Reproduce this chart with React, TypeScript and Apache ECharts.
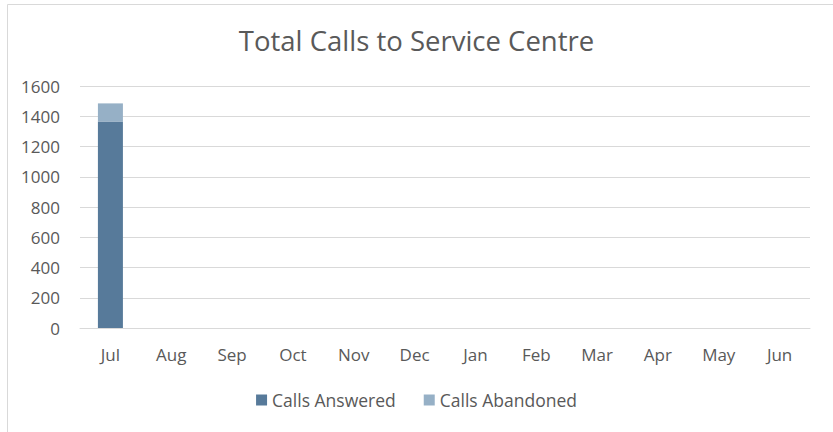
import React, { useEffect, useRef } from "react";
import * as echarts from "echarts";

// Monthly call volumes for the service centre (financial year Jul–Jun)
const months = ["Jul", "Aug", "Sep", "Oct", "Nov", "Dec", "Jan", "Feb", "Mar", "Apr", "May", "Jun"];
const callsAnswered: (number | null)[] = [1365, null, null, null, null, null, null, null, null, null, null, null];
const callsAbandoned: (number | null)[] = [120, null, null, null, null, null, null, null, null, null, null, null];
const seriesNames = ["Calls Answered", "Calls Abandoned"];
const titleText = "Total Calls to Service Centre";

const FONT = "'Open Sans', 'Noto Sans', sans-serif";
const TEXT = "#595959";
const GRID = "#d9d9d9";

export default function App() {
  const ref = useRef<HTMLDivElement>(null);

  useEffect(() => {
    if (!ref.current) return;
    const chart = echarts.init(ref.current, undefined, { renderer: "svg" });
    chart.setOption({
      animation: false,
      backgroundColor: "#ffffff",
      title: {
        text: titleText,
        left: "center",
        top: 21,
        textStyle: { fontFamily: FONT, fontSize: 27.5, fontWeight: "normal", color: TEXT },
      },
      graphic: [
        {
          type: "rect",
          left: 5,
          top: 2,
          shape: { width: 826, height: 428 },
          style: { fill: "none", stroke: GRID, lineWidth: 1 },
          silent: true,
        },
      ],
      legend: {
        data: seriesNames,
        bottom: 18,
        left: "center",
        itemWidth: 11,
        itemHeight: 11,
        itemGap: 28,
        icon: "rect",
        textStyle: { fontFamily: FONT, fontSize: 17.5, color: TEXT },
      },
      grid: { left: 80, right: 23, top: 86, bottom: 104, containLabel: false },
      xAxis: {
        type: "category",
        data: months,
        axisLine: { show: true, lineStyle: { color: GRID, width: 1 } },
        axisTick: { show: false },
        axisLabel: { fontFamily: FONT, fontSize: 17, color: TEXT, margin: 18 },
      },
      yAxis: {
        type: "value",
        min: 0,
        max: 1600,
        interval: 200,
        axisLine: { show: false },
        axisTick: { show: false },
        splitLine: { lineStyle: { color: GRID, width: 1 } },
        axisLabel: {
          fontFamily: FONT,
          fontSize: 17,
          color: TEXT,
          margin: 20,
          formatter: (v: number) => String(v),
        },
      },
      series: [
        {
          name: seriesNames[0],
          type: "bar",
          stack: "calls",
          data: callsAnswered,
          barWidth: 25,
          itemStyle: { color: "#577a9a" },
        },
        {
          name: seriesNames[1],
          type: "bar",
          stack: "calls",
          data: callsAbandoned,
          barWidth: 25,
          itemStyle: { color: "#96b0c6" },
        },
      ],
    });
    return () => chart.dispose();
  }, []);

  return (
    <div
      ref={ref}
      style={{ position: "fixed", left: 0, top: 0, width: 833, height: 432 }}
    />
  );
}
